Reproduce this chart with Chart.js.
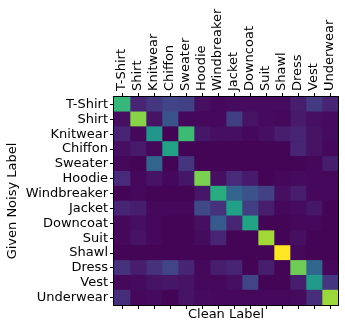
<!DOCTYPE html>
<html>
<head>
<meta charset="utf-8">
<script src="https://cdn.jsdelivr.net/npm/chart.js@4.4.1/dist/chart.umd.min.js"></script>
<style>
  body { margin: 0; background: #fff; }
  #wrap { width: 345px; height: 329px; position: relative; }
</style>
</head>
<body>
<div id="wrap"><canvas id="noiseMatrix"></canvas></div>
<script>
const labels = ['T-Shirt', 'Shirt', 'Knitwear', 'Chiffon', 'Sweater', 'Hoodie', 'Windbreaker',
  'Jacket', 'Downcoat', 'Suit', 'Shawl', 'Dress', 'Vest', 'Underwear'];

// rows = given noisy label, columns = clean label (same order as labels)
const tShirt      = [0.66, 0.10, 0.16, 0.20, 0.19, 0.04, 0.02, 0.03, 0.03, 0.03, 0.03, 0.08, 0.17, 0.10];
const shirt       = [0.04, 0.82, 0.05, 0.26, 0.02, 0.02, 0.02, 0.18, 0.05, 0.03, 0.02, 0.07, 0.04, 0.03];
const knitwear    = [0.10, 0.02, 0.52, 0.01, 0.68, 0.06, 0.04, 0.04, 0.02, 0.04, 0.08, 0.10, 0.05, 0.03];
const chiffon     = [0.04, 0.07, 0.02, 0.58, 0.01, 0.01, 0.01, 0.01, 0.01, 0.01, 0.01, 0.10, 0.05, 0.02];
const sweater     = [0.02, 0.01, 0.32, 0.01, 0.15, 0.01, 0.01, 0.01, 0.01, 0.01, 0.01, 0.01, 0.02, 0.08];
const hoodie      = [0.12, 0.02, 0.05, 0.02, 0.06, 0.80, 0.04, 0.12, 0.07, 0.01, 0.02, 0.03, 0.02, 0.02];
const windbreaker = [0.01, 0.02, 0.01, 0.01, 0.01, 0.06, 0.62, 0.32, 0.26, 0.19, 0.04, 0.08, 0.02, 0.02];
const jacket      = [0.10, 0.08, 0.02, 0.02, 0.02, 0.22, 0.14, 0.56, 0.18, 0.08, 0.02, 0.03, 0.06, 0.01];
const downcoat    = [0.02, 0.04, 0.02, 0.01, 0.01, 0.04, 0.28, 0.10, 0.58, 0.01, 0.01, 0.02, 0.02, 0.01];
const suit        = [0.02, 0.05, 0.02, 0.01, 0.01, 0.03, 0.10, 0.01, 0.01, 0.86, 0.01, 0.04, 0.01, 0.01];
const shawl       = [0.01, 0.01, 0.01, 0.01, 0.01, 0.01, 0.01, 0.01, 0.01, 0.01, 1.00, 0.02, 0.01, 0.01];
const dress       = [0.14, 0.08, 0.14, 0.20, 0.10, 0.02, 0.08, 0.10, 0.01, 0.08, 0.01, 0.78, 0.33, 0.02];
const vest        = [0.02, 0.03, 0.05, 0.06, 0.05, 0.02, 0.02, 0.04, 0.20, 0.01, 0.01, 0.08, 0.54, 0.16];
const underwear   = [0.13, 0.02, 0.03, 0.01, 0.05, 0.03, 0.02, 0.02, 0.02, 0.02, 0.02, 0.03, 0.13, 0.85];

const rows = [tShirt, shirt, knitwear, chiffon, sweater, hoodie, windbreaker,
  jacket, downcoat, suit, shawl, dress, vest, underwear];

const viridisStops = ['#440154', '#482475', '#414487', '#355f8d', '#2a788e', '#21918c',
  '#22a884', '#44bf70', '#7ad151', '#bddf26', '#fde725'];

function hexToRgb(h) {
  return [1, 3, 5].map(i => parseInt(h.slice(i, i + 2), 16));
}

function viridis(v) {
  v = Math.min(1, Math.max(0, v));
  const pos = v * 10;
  const i = Math.min(9, Math.floor(pos));
  const t = pos - i;
  const a = hexToRgb(viridisStops[i]);
  const b = hexToRgb(viridisStops[i + 1]);
  const c = a.map((x, k) => Math.round(x + (b[k] - x) * t));
  return `rgb(${c[0]},${c[1]},${c[2]})`;
}

const vmax = Math.max(...rows.flat());

// one stacked horizontal bar segment per clean-label column
const datasets = labels.map((name, j) => ({
  label: name,
  data: rows.map(() => 1),
  backgroundColor: rows.map(r => viridis(r[j] / vmax)),
  borderWidth: 0,
  barPercentage: 1,
  categoryPercentage: 1,
  xAxisID: 'xv',
  yAxisID: 'y',
}));

const frame = {
  id: 'frame',
  beforeDatasetsDraw(chart) {
    const { ctx, chartArea: a } = chart;
    ctx.save();
    ctx.fillStyle = '#440154';
    ctx.fillRect(a.left, a.top, a.right - a.left, a.bottom - a.top);
    ctx.restore();
  },
  afterDatasetsDraw(chart) {
    const { ctx, chartArea: a } = chart;
    ctx.save();
    ctx.strokeStyle = '#000';
    ctx.lineWidth = 1;
    ctx.strokeRect(Math.round(a.left) - 0.5, Math.round(a.top) - 0.5,
      Math.round(a.right - a.left) + 1, Math.round(a.bottom - a.top) + 1);
    ctx.restore();
  }
};

Chart.defaults.font.family = 'DejaVu Sans';
Chart.defaults.font.size = 13;
Chart.defaults.color = '#000';

const tickGrid = {
  display: true,
  drawOnChartArea: false,
  drawTicks: true,
  tickLength: 4,
  color: '#000',
  offset: false,
};

new Chart(document.getElementById('noiseMatrix'), {
  type: 'bar',
  data: { labels: labels, datasets: datasets },
  options: {
    indexAxis: 'y',
    responsive: true,
    maintainAspectRatio: false,
    animation: false,
    layout: { padding: { left: 0, right: 7, top: 0, bottom: 0 } },
    plugins: { legend: { display: false }, tooltip: { enabled: false } },
    scales: {
      xv: {
        type: 'linear',
        display: false,
        stacked: true,
        min: 0,
        max: labels.length,
      },
      xt: {
        type: 'category',
        labels: labels,
        position: 'top',
        offset: true,
        grid: tickGrid,
        border: { display: false },
        // rotated labels on a top axis land one line-height to the left; shift them back
        ticks: { autoSkip: false, minRotation: 90, maxRotation: 90, padding: 2, labelOffset: 15.6 },
        afterFit(s) { s.height = 97; },
      },
      x: {
        type: 'category',
        labels: labels,
        position: 'bottom',
        offset: true,
        grid: tickGrid,
        border: { display: false },
        ticks: { display: false },
        title: { display: true, text: 'Clean Label', padding: { top: 0, bottom: 7 } },
        afterFit(s) { s.height = 24; },
      },
      y: {
        type: 'category',
        position: 'left',
        stacked: true,
        offset: true,
        grid: tickGrid,
        border: { display: false },
        ticks: { autoSkip: false, padding: 2 },
        title: { display: true, text: 'Given Noisy Label', padding: { top: 5, bottom: 0 } },
        afterFit(s) { s.height; s.width = 114; },
      },
    },
  },
  plugins: [frame],
});
</script>
</body>
</html>
